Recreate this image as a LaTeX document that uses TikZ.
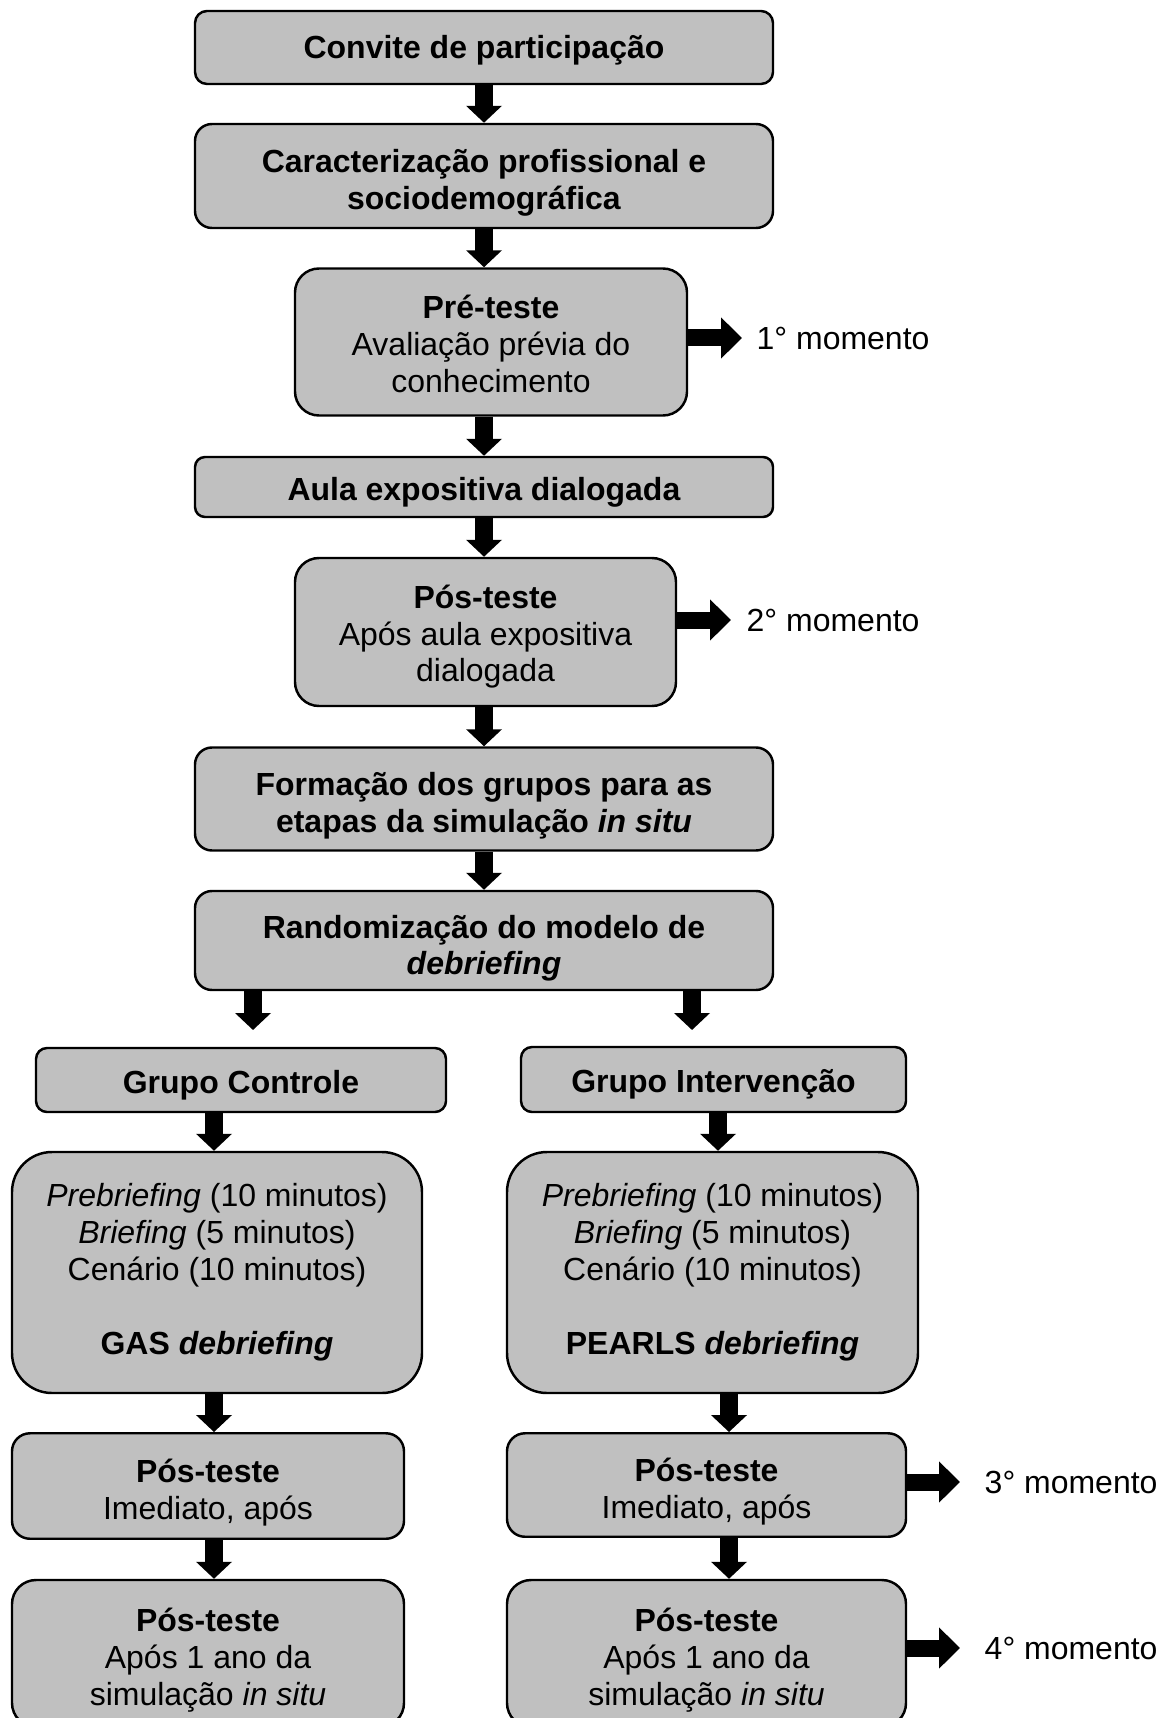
\documentclass[tikz,border=0pt]{standalone}
\usepackage{fontspec}
\setmainfont{Liberation Sans}
\usetikzlibrary{arrows.meta}
\definecolor{cinza}{HTML}{C0C0C0}
\newcommand{\topo}[1]{\rule{0pt}{#1}}

\begin{document}
\begin{tikzpicture}[
    etapa/.style={rectangle, draw, fill=cinza, line width=0.7pt, rounded corners=#1, align=center, inner sep=0pt, font=\fontsize{9.1}{10.5}\selectfont},
    etapa/.default=1.5mm,
    momento/.style={anchor=west, inner sep=0pt, font=\fontsize{9.1}{10.5}\selectfont},
    seta/.style={-{Triangle[width=3.5mm,length=1.7mm]}, line width=1.8mm},
    setalado/.style={-{Triangle[width=4mm,length=2.1mm]}, line width=1.7mm}
]
    \useasboundingbox (0,0) rectangle (11.76,-17.18);

    \node[etapa=1.2mm, minimum width=5.78cm, minimum height=0.73cm] (convite) at (4.84,-0.475) {\topo{8pt}\textbf{Convite de participação}};
    \node[etapa=1.7mm, minimum width=5.78cm, minimum height=1.04cm] (carac) at (4.84,-1.76) {\topo{10.5pt}\textbf{Caracterização profissional e}\\\textbf{sociodemográfica}};
    \node[etapa=2.4mm, minimum width=3.92cm, minimum height=1.47cm] (pre) at (4.91,-3.42) {\topo{8pt}\textbf{Pré-teste}\\Avaliação prévia do\\conhecimento};
    \node[etapa=1mm, minimum width=5.78cm, minimum height=0.60cm] (aula) at (4.84,-4.87) {\topo{9.8pt}\textbf{Aula expositiva dialogada}};
    \node[etapa=2.4mm, minimum width=3.81cm, minimum height=1.48cm] (pos) at (4.855,-6.32) {\topo{9.3pt}\textbf{Pós-teste}\\Após aula expositiva\\dialogada};
    \node[etapa=1.7mm, minimum width=5.78cm, minimum height=1.03cm] (formacao) at (4.84,-7.99) {\topo{10.5pt}\textbf{Formação dos grupos para as}\\\textbf{etapas da simulação \textit{in situ}}};
    \node[etapa=1.7mm, minimum width=5.78cm, minimum height=0.99cm] (rand) at (4.84,-9.405) {\topo{11pt}\textbf{Randomização do modelo de}\\\textbf{\textit{debriefing}}};

    \node[etapa=1.1mm, minimum width=4.10cm, minimum height=0.64cm] (ctl) at (2.41,-10.80) {\topo{9.3pt}\textbf{Grupo Controle}};
    \node[etapa=1.1mm, minimum width=3.85cm, minimum height=0.65cm] (itv) at (7.135,-10.795) {\topo{9.3pt}\textbf{Grupo Intervenção}};

    \node[etapa=4mm, minimum width=4.10cm, minimum height=2.41cm] (cbox) at (2.17,-12.725) {\textit{Prebriefing} (10 minutos)\\\textit{Briefing} (5 minutos)\\Cenário (10 minutos)\\[10.5pt]\textbf{GAS \textit{debriefing}}};
    \node[etapa=4mm, minimum width=4.11cm, minimum height=2.41cm] (ibox) at (7.125,-12.725) {\textit{Prebriefing} (10 minutos)\\\textit{Briefing} (5 minutos)\\Cenário (10 minutos)\\[10.5pt]\textbf{PEARLS \textit{debriefing}}};

    \node[etapa=1.8mm, minimum width=3.92cm, minimum height=1.055cm] (cpos1) at (2.08,-14.86) {\topo{10.5pt}\textbf{Pós-teste}\\Imediato, após};
    \node[etapa=1.8mm, minimum width=3.99cm, minimum height=1.035cm] (ipos1) at (7.065,-14.85) {\topo{10.5pt}\textbf{Pós-teste}\\Imediato, após};
    \node[etapa=2.4mm, minimum width=3.92cm, minimum height=1.47cm] (cpos2) at (2.08,-16.535) {\topo{10.5pt}\textbf{Pós-teste}\\Após 1 ano da\\simulação \textit{in situ}};
    \node[etapa=2.4mm, minimum width=3.99cm, minimum height=1.47cm] (ipos2) at (7.065,-16.535) {\topo{10.5pt}\textbf{Pós-teste}\\Após 1 ano da\\simulação \textit{in situ}};

    \node[momento] (m1) at (7.56,-3.38) {1° momento};
    \node[momento] (m2) at (7.46,-6.20) {2° momento};
    \node[momento] (m3) at (9.84,-14.82) {3° momento};
    \node[momento] (m4) at (9.84,-16.48) {4° momento};

    \coordinate (ramoC) at (2.53,-10.30);
    \coordinate (ramoI) at (6.92,-10.30);
    \coordinate (colC) at (2.14,0);
    \coordinate (colI) at (7.18,0);
    \coordinate (colJ) at (7.29,0);

    \draw[seta] (convite) -- (carac);
    \draw[seta] (carac) -- (carac |- pre.north);
    \draw[seta] (pre.south -| carac) -- (aula);
    \draw[seta] (aula) -- (aula |- pos.north);
    \draw[seta] (pos.south -| aula) -- (formacao);
    \draw[seta] (formacao) -- (rand);
    \draw[seta] (rand.south -| ramoC) -- (ramoC);
    \draw[seta] (rand.south -| ramoI) -- (ramoI);

    \draw[seta] (ctl.south -| colC) -- (cbox.north -| colC);
    \draw[seta] (cbox.south -| colC) -- (cpos1.north -| colC);
    \draw[seta] (cpos1.south -| colC) -- (cpos2.north -| colC);
    \draw[seta] (itv.south -| colI) -- (ibox.north -| colI);
    \draw[seta] (ibox.south -| colJ) -- (ipos1.north -| colJ);
    \draw[seta] (ipos1.south -| colJ) -- (ipos2.north -| colJ);

    \draw[setalado] (pre.east |- m1.west) -- ([xshift=-1.4mm]m1.west);
    \draw[setalado] (pos.east |- m2.west) -- ([xshift=-1.5mm]m2.west);
    \draw[setalado] (ipos1.east |- m3.west) -- ([xshift=-2.4mm]m3.west);
    \draw[setalado] (ipos2.east |- m4.west) -- ([xshift=-2.4mm]m4.west);
\end{tikzpicture}
\end{document}
